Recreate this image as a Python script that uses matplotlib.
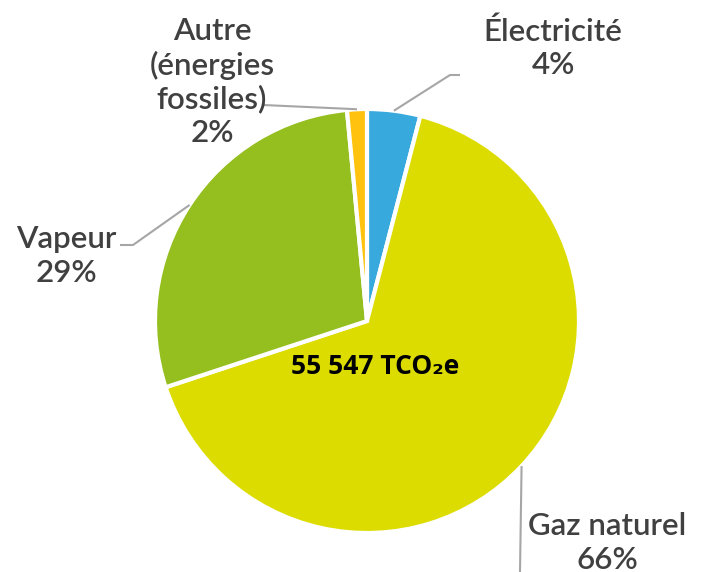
import numpy as np
import matplotlib.pyplot as plt

# émissions par source (tCO2e)
categories = ['Électricité', 'Gaz naturel', 'Vapeur', 'Autre\n(énergies\nfossiles)']
values = [2250, 36600, 15860, 837]
colors = ['#38A9DD', '#DCDC00', '#95BE1F', '#FFC20E']
total_label = '55 547 TCO₂e'

W, H = 709, 572
fig = plt.figure(figsize=(W / 100, H / 100), dpi=100)
ax = fig.add_axes([0, 0, 1, 1])

cx, cy, r = 367, H - 321, 212
wedges, _ = ax.pie(values, colors=colors, startangle=90, counterclock=False,
                   center=(cx, cy), radius=r, frame=True,
                   wedgeprops=dict(edgecolor='white', linewidth=3))
ax.set_xlim(0, W)
ax.set_ylim(0, H)
ax.set_aspect('equal')
ax.axis('off')

pct = [v / sum(values) * 100 for v in values]
txt_col = '#404040'
line_col = '#A6A6A6'
font = ['Lato', 'DejaVu Sans']

# position du texte et coude de la ligne de rappel (en pixels, image)
label_pos = [(553, 48), (607, 543), (66, 256), (212, 82)]
elbows = [[(450, 75), (460, 75)],
          [(520, 572)],
          [(133, 245), (120, 245)],
          [(263, 105)]]

for w, name, p, (tx, ty), elb in zip(wedges, categories, pct, label_pos, elbows):
    mid = np.deg2rad((w.theta1 + w.theta2) / 2)
    x0 = cx + r * np.cos(mid)
    y0 = cy + r * np.sin(mid)
    xs = [x0] + [e[0] for e in elb]
    ys = [y0] + [H - e[1] for e in elb]
    ax.plot(xs, ys, color=line_col, lw=1.5, solid_capstyle='butt')
    ax.text(tx, H - ty, f'{name}\n{p:.0f}%', ha='center', va='center',
            fontsize=22.5, color=txt_col, family=font, fontweight='semibold',
            linespacing=1.22)

ax.text(375, H - 367, total_label, ha='center', va='center', fontsize=19,
        fontweight='bold', color='black', family=['Open Sans', 'DejaVu Sans'])

fig.savefig('out.png', dpi=100)
